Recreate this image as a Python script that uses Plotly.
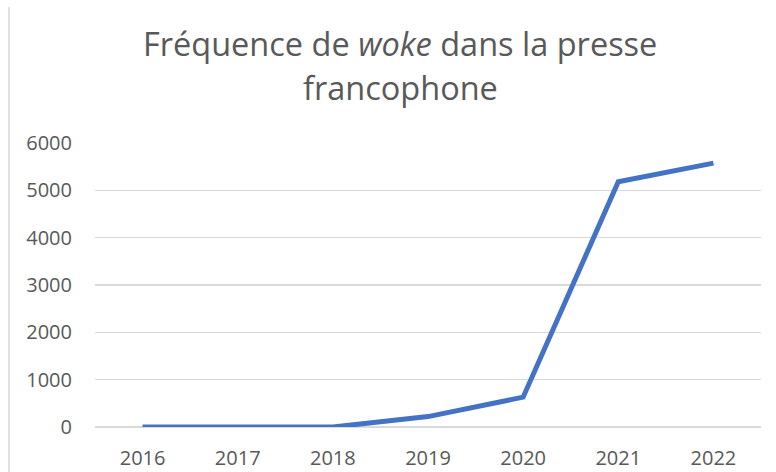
import plotly.graph_objects as go

years = ["2016", "2017", "2018", "2019", "2020", "2021", "2022"]
frequency = [0, 0, 0, 220, 630, 5180, 5575]
y_ticks = [0, 1000, 2000, 3000, 4000, 5000, 6000]

FONT = "Open Sans"
GREY = "#595959"
GRID = "#D9D9D9"

fig = go.Figure()
fig.add_trace(go.Scatter(
    x=list(range(len(years))), y=frequency, mode="lines",
    line=dict(color="#4472C4", width=5),
    hoverinfo="skip",
))

L, R, T, B = 95, 15, 143, 45
W, H = 776, 472
pw, ph = W - L - R, H - T - B

fig.update_layout(
    width=W, height=H,
    margin=dict(l=L, r=R, t=T, b=B, autoexpand=False),
    paper_bgcolor="white", plot_bgcolor="white",
    showlegend=False,
    font=dict(family=FONT, color=GREY, size=20),
    xaxis=dict(
        range=[-0.5, len(years) - 0.5],
        tickmode="array", tickvals=list(range(len(years))), ticktext=years,
        showgrid=False, zeroline=False, showline=False,
        ticks="outside", ticklen=13, tickcolor="rgba(0,0,0,0)",
        tickfont=dict(size=20, color=GREY, family=FONT),
        automargin=False, fixedrange=True,
    ),
    yaxis=dict(
        range=[0, 6000],
        tickmode="array", tickvals=y_ticks, ticktext=[str(v) for v in y_ticks],
        showgrid=True, gridcolor=GRID, gridwidth=1.5,
        zeroline=True, zerolinecolor=GRID, zerolinewidth=1.5,
        showline=False,
        ticks="outside", ticklen=18, tickcolor="rgba(0,0,0,0)",
        tickfont=dict(size=20, color=GREY, family=FONT),
        automargin=False, fixedrange=True,
    ),
)

title_x = (400 - L) / pw
fig.add_annotation(
    text="Fréquence de <i>woke</i> dans la presse", xref="paper", yref="paper",
    x=title_x, y=(H - B - 44) / ph, xanchor="center", yanchor="middle",
    showarrow=False, font=dict(family=FONT, size=32.5, color=GREY),
)
fig.add_annotation(
    text="francophone", xref="paper", yref="paper",
    x=title_x, y=(H - B - 88) / ph, xanchor="center", yanchor="middle",
    showarrow=False, font=dict(family=FONT, size=32.5, color=GREY),
)

# chart-area border on the left edge
bx = (9 - L) / pw
fig.add_shape(type="line", xref="paper", yref="paper",
              x0=bx, x1=bx, y0=(H - B - 7) / ph, y1=(H - B - H) / ph,
              line=dict(color=GRID, width=1.5))

fig.write_html(
    "out.html",
    config={"displayModeBar": False, "staticPlot": True},
    post_script="document.body.style.margin='0';document.body.style.overflow='hidden';",
)
